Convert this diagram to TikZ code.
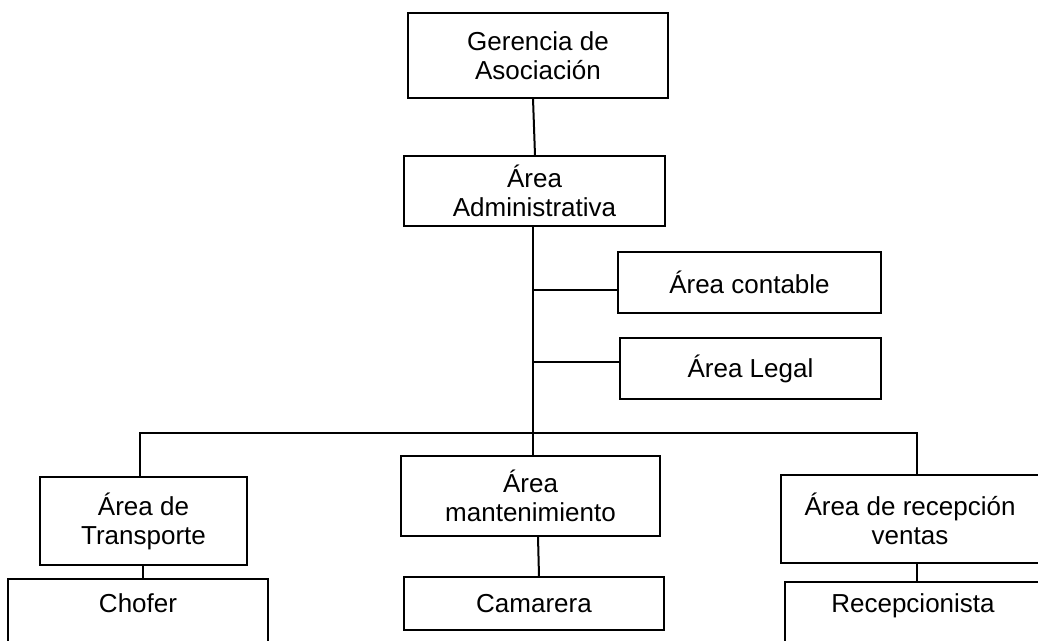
\documentclass[tikz,border=0pt]{standalone}
\usepackage{fontspec}
\setmainfont{Liberation Sans}
\usetikzlibrary{calc}
\tikzset{
  box/.style={draw=black, line width=0.9pt, rectangle, inner sep=0pt, align=center,
    font=\fontsize{19.5pt}{21.8pt}\selectfont},
  lbl/.style={inner sep=0pt, align=center, font=\fontsize{19.5pt}{21.8pt}\selectfont},
  conn/.style={draw=black, line width=1.5pt}
}
\begin{document}
\begin{tikzpicture}[x=0.75pt,y=-0.75pt]
\useasboundingbox (0,0) rectangle (1038,640);
\fill[white] (0,0) rectangle (1038,640);
\clip (0,0) rectangle (1038,640);
% nodes
\node[box, minimum width=195pt, minimum height=63.75pt] (ger) at (538,55.5) {Gerencia de\\Asociación};
\node[box, minimum width=195.75pt, minimum height=52.5pt] (adm) at (534.5,191) {Área\\Administrativa};
\node[box, minimum width=197.25pt, minimum height=45.75pt] (cont) at (749.5,282.5) {Área contable};
\node[box, minimum width=195.75pt, minimum height=45.75pt] (legal) at (750.5,368.5) {Área Legal};
\node[box, minimum width=155.25pt, minimum height=66pt] (trans) at (143.5,521) {Área de\\Transporte};
\node[box, minimum width=194.25pt, minimum height=60pt] (mant) at (530.5,496) {Área\\mantenimiento};
\node[box, minimum width=198pt, minimum height=66pt] (rec) at (913,519) {};
\node[lbl] (rectxt) at (910,519) {Área de recepción\\ventas};
\node[box, minimum width=195pt, minimum height=61.5pt] (chofer) at (138,620) {};
\node[lbl] (chofertxt) at (138,603) {Chofer};
\node[box, minimum width=195pt, minimum height=39.75pt] (cam) at (534,603.5) {Camarera};
\node[box, minimum width=195pt, minimum height=58.5pt] (recp) at (915,621) {};
\node[lbl] (recptxt) at (913,606) {Recepcionista};
% helper coordinates
\coordinate (busL) at (140,433);
\coordinate (busR) at (917,433);
\coordinate (trunkT) at ($(adm.south)+(-1.5,0)$);
\coordinate (trunkB) at ($(mant.north)+(2.5,0)$);
\coordinate (contE) at ($(cont.west)+(0,7)$);
\coordinate (legalE) at ($(legal.west)+(0,-6.5)$);
\coordinate (transB) at ($(trans.south)+(-0.5,0)$);
% connectors
\draw[conn] ($(ger.south)+(-5,0)$) -- ($(adm.north)+(0.5,0)$);
\draw[conn] (trunkT) -- (trunkB);
\draw[conn] (trunkT |- contE) -- (contE);
\draw[conn] (trunkT |- legalE) -- (legalE);
\draw[conn] (trans.north -| busL) -- (busL) -- (busR) -- (rec.north -| busR);
\draw[conn] (transB) -- (transB |- chofer.north);
\draw[conn] ($(mant.south)+(7.5,0)$) -- ($(cam.north)+(5,0)$);
\draw[conn] (rec.south -| busR) -- (recp.north -| busR);
\end{tikzpicture}
\end{document}
